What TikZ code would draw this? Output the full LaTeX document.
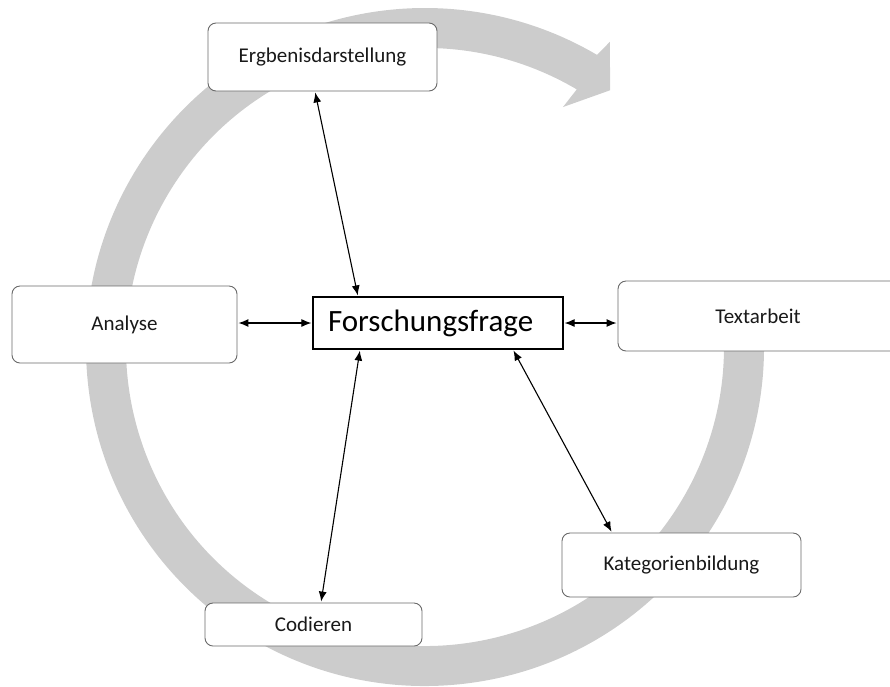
\documentclass[tikz,border=0pt]{standalone}
\usepackage{fontspec}
\setmainfont{Carlito}
\usetikzlibrary{arrows.meta}
\definecolor{ringgray}{RGB}{204,204,204}
\definecolor{boxline}{RGB}{105,105,105}
\begin{document}
\begin{tikzpicture}[x=1pt,y=1pt,
  stagebox/.style={draw=boxline, line width=0.9pt, rounded corners=8pt, fill=white,
    inner sep=0pt, font=\fontsize{21}{25}\selectfont, text=black!90},
  corebox/.style={draw=black, line width=1.2pt, fill=white, inner ysep=0pt, inner xsep=15pt,
    minimum height=52pt, text width=220pt, align=left,
    font=\fontsize{31}{36}\selectfont, text=black},
  link/.style={{Latex[length=10pt,width=8pt]}-{Latex[length=10pt,width=8pt]}, line width=1.1pt, black,
    shorten <=1pt, shorten >=1pt}]
\useasboundingbox (0,0) rectangle (890,-686);
\clip (0,0) rectangle (890,-686);

% circular process arrow (clockwise), tail hidden behind the right box
\fill[ringgray, shift={(425,-347)}]
  (5:339pt) arc[start angle=5, end angle=-300.5, radius=339pt]
  -- (-301.2:356.7pt) -- (-305.8:316.6pt) -- (-299.9:276.8pt)
  -- (-300.5:299pt) arc[start angle=-300.5, end angle=5, radius=299pt] -- cycle;

% stages
\node[stagebox, minimum width=229pt, minimum height=68pt] (erg) at (322.5,-57) {Ergbenisdarstellung};
\node[stagebox, minimum width=225pt, minimum height=77pt] (ana) at (124.5,-324.5) {Analyse};
\node[stagebox, minimum width=280pt, minimum height=70pt] (ta)  at (758,-316) {Textarbeit};
\node[stagebox, minimum width=217pt, minimum height=43pt] (cod) at (313.5,-624.5) {Codieren};
\node[stagebox, minimum width=239pt, minimum height=64pt] (kat) at (681.5,-565) {Kategorienbildung};

% central question
\node[corebox] (fo) at (438,-323) {Forschungsfrage};

% links to the central question
\draw[link] ([xshift=-7.5pt]erg.south) -- ([xshift=-80pt]fo.north);
\draw[link] (ana.east |- fo.west) -- (fo.west);
\draw[link] (fo.east) -- (fo.east -| ta.west);
\draw[link] ([xshift=-78pt]fo.south) -- ([xshift=7.5pt]cod.north);
\draw[link] ([xshift=75pt]fo.south) -- ([xshift=-69.5pt]kat.north);
\end{tikzpicture}
\end{document}
